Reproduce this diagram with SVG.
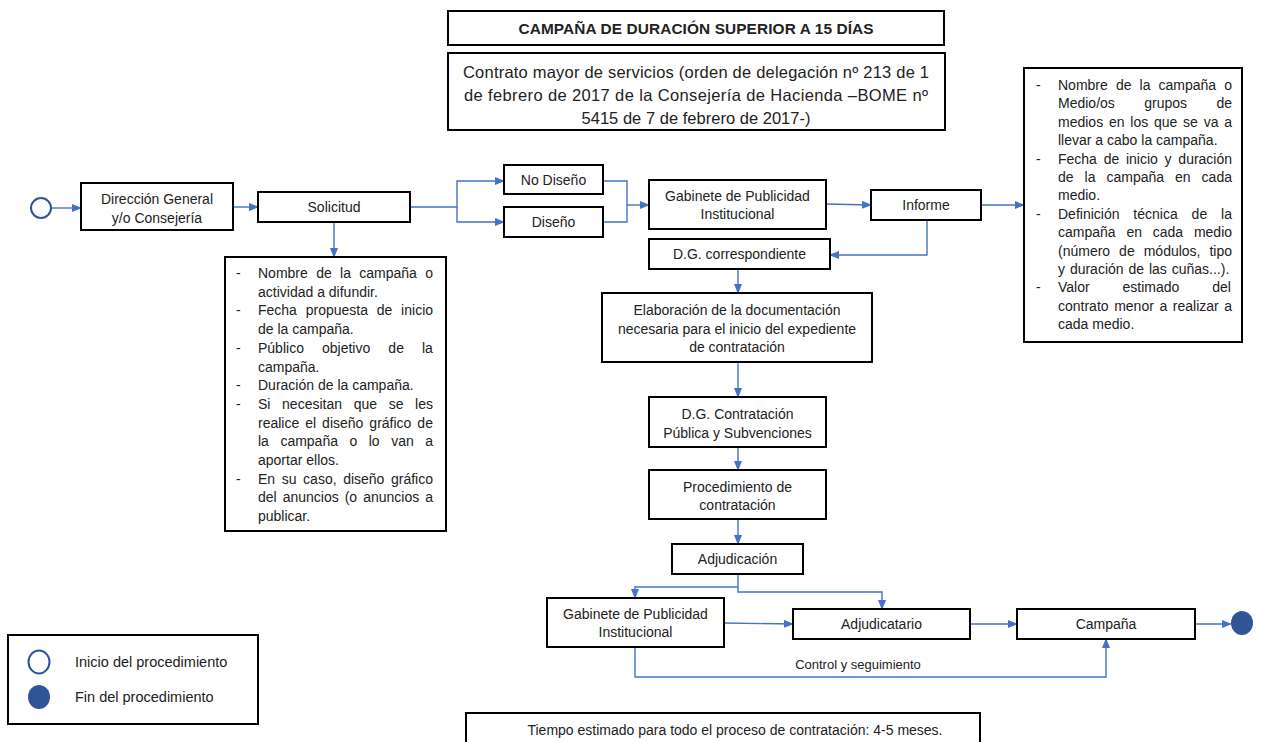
<svg xmlns="http://www.w3.org/2000/svg" width="1270" height="742" viewBox="0 0 1270 742">
<style>
text{font-family:"Liberation Sans",Arial,sans-serif;fill:#222}
.box{fill:#fff;stroke:#000;stroke-width:2}
.n{font-size:14px;text-anchor:middle}
.b{font-size:14px}
.c{fill:none;stroke:#4472C4;stroke-width:1.4}
</style>
<defs>
<marker id="ah" markerWidth="10" markerHeight="8" refX="9" refY="4" orient="auto" markerUnits="userSpaceOnUse">
<path d="M0,0 L10,4 L0,8 Z" fill="#4472C4"/>
</marker>
</defs>
<rect width="1270" height="742" fill="#fff"/>

<g id="title">
<rect class="box" x="448" y="11" width="496" height="34"/>
<text x="696" y="33.5" text-anchor="middle" font-size="15.4" font-weight="bold" textLength="355" lengthAdjust="spacing">CAMPAÑA DE DURACIÓN SUPERIOR A 15 DÍAS</text>
</g>
<g id="subtitle">
<rect class="box" x="448" y="53" width="497" height="77"/>
<text x="696" y="78" text-anchor="middle" font-size="16.5" textLength="466" lengthAdjust="spacing">Contrato mayor de servicios (orden de delegación nº 213 de 1</text>
<text x="696" y="101" text-anchor="middle" font-size="16.5" textLength="464" lengthAdjust="spacing">de febrero de 2017  de la Consejería de Hacienda –BOME nº</text>
<text x="696" y="124" text-anchor="middle" font-size="16.5" textLength="229" lengthAdjust="spacing">5415 de 7 de febrero de 2017-)</text>
</g>

<g id="connectors">
<line class="c" x1="51" y1="208" x2="81" y2="208" marker-end="url(#ah)"/>
<line class="c" x1="233" y1="207" x2="258" y2="207" marker-end="url(#ah)"/>
<line class="c" x1="334" y1="222" x2="334" y2="257" marker-end="url(#ah)"/>
<path class="c" d="M410,207 H457 V181 H504" marker-end="url(#ah)"/>
<path class="c" d="M457,207 V222 H504" marker-end="url(#ah)"/>
<path class="c" d="M603,181 H627 V222 H603"/>
<line class="c" x1="627" y1="205" x2="649" y2="205" marker-end="url(#ah)"/>
<line class="c" x1="826" y1="204" x2="871" y2="205" marker-end="url(#ah)"/>
<line class="c" x1="981" y1="205" x2="1024" y2="205" marker-end="url(#ah)"/>
<path class="c" d="M927,220 V255 H830" marker-end="url(#ah)"/>
<line class="c" x1="738" y1="269" x2="738" y2="293" marker-end="url(#ah)"/>
<line class="c" x1="738" y1="362" x2="738" y2="397" marker-end="url(#ah)"/>
<line class="c" x1="738" y1="447" x2="738" y2="470" marker-end="url(#ah)"/>
<line class="c" x1="738" y1="519" x2="738" y2="544" marker-end="url(#ah)"/>
<path class="c" d="M738,587 H635 V598" marker-end="url(#ah)"/>
<path class="c" d="M738,574 V592 H882 V609" marker-end="url(#ah)"/>
<line class="c" x1="724" y1="623" x2="793" y2="624" marker-end="url(#ah)"/>
<line class="c" x1="970" y1="624" x2="1017" y2="624" marker-end="url(#ah)"/>
<line class="c" x1="1195" y1="624" x2="1231" y2="624" marker-end="url(#ah)"/>
<path class="c" d="M635,647 V677 H1106 V639" marker-end="url(#ah)"/>
<text x="858" y="669" text-anchor="middle" font-size="13">Control y seguimiento</text>
</g>

<g id="start">
<circle cx="41" cy="208" r="10" fill="#fff" stroke="#2F5597" stroke-width="2"/>
</g>
<g id="direccion">
<rect class="box" x="81" y="183" width="152" height="47"/>
<text class="n" x="157" y="204">Dirección General</text>
<text class="n" x="157" y="223">y/o Consejería</text>
</g>
<g id="solicitud">
<rect class="box" x="258" y="192" width="152" height="30"/>
<text class="n" x="334" y="212">Solicitud</text>
</g>
<g id="no-diseno">
<rect class="box" x="504" y="165" width="99" height="29"/>
<text class="n" x="553.5" y="185">No Diseño</text>
</g>
<g id="diseno">
<rect class="box" x="504" y="207" width="99" height="30"/>
<text class="n" x="553.5" y="227">Diseño</text>
</g>
<g id="gabinete1">
<rect class="box" x="649" y="180" width="177" height="49"/>
<text class="n" x="737.5" y="201">Gabinete de Publicidad</text>
<text class="n" x="737.5" y="219">Institucional</text>
</g>
<g id="informe">
<rect class="box" x="871" y="190" width="110" height="30"/>
<text class="n" x="926" y="210">Informe</text>
</g>
<g id="dg-correspondiente">
<rect class="box" x="649" y="239" width="181" height="30"/>
<text class="n" x="739.5" y="259">D.G. correspondiente</text>
</g>
<g id="elaboracion">
<rect class="box" x="602" y="293" width="270" height="69"/>
<text class="n" x="737" y="315">Elaboración de la documentación</text>
<text class="n" x="737" y="334">necesaria para el inicio del expediente</text>
<text class="n" x="737" y="352">de contratación</text>
</g>
<g id="dg-contratacion">
<rect class="box" x="649" y="397" width="177" height="50"/>
<text class="n" x="737.5" y="419">D.G. Contratación</text>
<text class="n" x="737.5" y="438">Pública y Subvenciones</text>
</g>
<g id="procedimiento">
<rect class="box" x="649" y="470" width="177" height="49"/>
<text class="n" x="737.5" y="492">Procedimiento de</text>
<text class="n" x="737.5" y="510">contratación</text>
</g>
<g id="adjudicacion">
<rect class="box" x="672" y="544" width="131" height="30"/>
<text class="n" x="737.5" y="564">Adjudicación</text>
</g>
<g id="gabinete2">
<rect class="box" x="547" y="598" width="177" height="49"/>
<text class="n" x="635.5" y="619">Gabinete de Publicidad</text>
<text class="n" x="635.5" y="637">Institucional</text>
</g>
<g id="adjudicatario">
<rect class="box" x="793" y="609" width="177" height="30"/>
<text class="n" x="881.5" y="629">Adjudicatario</text>
</g>
<g id="campana">
<rect class="box" x="1017" y="609" width="178" height="30"/>
<text class="n" x="1106" y="629">Campaña</text>
</g>
<g id="end">
<ellipse cx="1242" cy="623" rx="11" ry="12" fill="#2F5597"/>
</g>

<g id="solicitud-details">
<rect class="box" x="225" y="257" width="221" height="274"/>
<g class="b">
<text x="236" y="278">-</text>
<text x="258" y="278" style="word-spacing:4.45px">Nombre de la campaña o</text>
<text x="258" y="296.7">actividad a difundir.</text>
<text x="236" y="315.4">-</text>
<text x="258" y="315.4" style="word-spacing:4.9px">Fecha propuesta de inicio</text>
<text x="258" y="334.1">de la campaña.</text>
<text x="236" y="352.8">-</text>
<text x="258" y="352.8" style="word-spacing:14.2px">Público objetivo de la</text>
<text x="258" y="371.5">campaña.</text>
<text x="236" y="390.2">-</text>
<text x="258" y="390.2">Duración de la campaña.</text>
<text x="236" y="408.9">-</text>
<text x="258" y="408.9" style="word-spacing:7.75px">Si necesitan que se les</text>
<text x="258" y="427.6" style="word-spacing:2.1px">realice el diseño gráfico de</text>
<text x="258" y="446.3" style="word-spacing:7.6px">la campaña o lo van a</text>
<text x="258" y="465">aportar ellos.</text>
<text x="236" y="483.7">-</text>
<text x="258" y="483.7" style="word-spacing:2.7px">En su caso, diseño gráfico</text>
<text x="258" y="502.4" style="word-spacing:2.1px">del anuncios (o anuncios a</text>
<text x="258" y="521.1">publicar.</text>
</g>
</g>

<g id="informe-details">
<rect class="box" x="1024" y="68" width="218" height="274"/>
<g class="b">
<text x="1036" y="90">-</text>
<text x="1058" y="90" style="word-spacing:4.2px">Nombre de la campaña o</text>
<text x="1058" y="108.4" style="word-spacing:25.5px">Medio/os grupos de</text>
<text x="1058" y="126.8" style="word-spacing:1.9px">medios en los que se va a</text>
<text x="1058" y="145.2">llevar a cabo la campaña.</text>
<text x="1036" y="163.6">-</text>
<text x="1058" y="163.6" style="word-spacing:2.85px">Fecha de inicio y duración</text>
<text x="1058" y="182" style="word-spacing:7.1px">de la campaña en cada</text>
<text x="1058" y="200.4">medio.</text>
<text x="1036" y="218.8">-</text>
<text x="1058" y="218.8" style="word-spacing:10px">Definición técnica de la</text>
<text x="1058" y="237.2" style="word-spacing:6.9px">campaña en cada medio</text>
<text x="1058" y="255.6" style="word-spacing:5.1px">(número de módulos, tipo</text>
<text x="1058" y="274" style="word-spacing:1px">y duración de las cuñas...).</text>
<text x="1036" y="292.4">-</text>
<text x="1058" y="292.4" style="word-spacing:29px">Valor estimado del</text>
<text x="1058" y="310.8" style="word-spacing:1.7px">contrato menor a realizar a</text>
<text x="1058" y="329.2">cada medio.</text>
</g>
</g>

<g id="legend">
<rect class="box" x="8" y="635" width="250" height="89"/>
<ellipse cx="39" cy="662" rx="10.5" ry="11.5" fill="#fff" stroke="#2F5597" stroke-width="2"/>
<ellipse cx="39" cy="697" rx="11" ry="12" fill="#2F5597"/>
<text x="75" y="667" font-size="14.5">Inicio del procedimiento</text>
<text x="75" y="702" font-size="14.5">Fin del procedimiento</text>
</g>

<g id="tiempo">
<rect class="box" x="466" y="713" width="514" height="40"/>
<text x="735" y="735" text-anchor="middle" font-size="14">Tiempo estimado para todo el proceso de contratación: 4-5 meses.</text>
</g>
</svg>
